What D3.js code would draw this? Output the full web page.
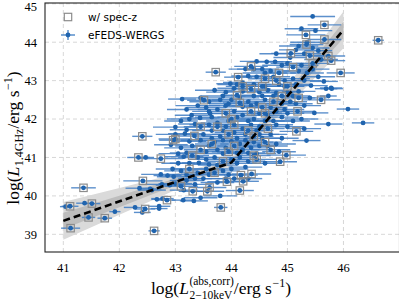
<!DOCTYPE html>
<html lang="en">
<head>
<meta charset="UTF-8">
<title>L_1.4GHz vs L_X</title>
<script src="https://cdn.jsdelivr.net/npm/d3@7"></script>
<style>
  body { margin: 0; background: #fff; }
  svg { display: block; }
</style>
</head>
<body>
<script>
    // sources with spec-z: [logLX, logLR, xerr]
    const specSources = [
        [41.12, 39.73, 0.15], [41.13, 39.16, 0.17], [41.36, 40.21, 0.22], [41.51, 39.80, 0.15],
        [41.45, 39.44, 0.12], [41.74, 39.42, 0.13], [42.46, 39.66, 0.18], [42.62, 39.09, 0.10],
        [42.42, 40.39, 0.35], [42.34, 41.00, 0.20], [42.74, 40.97, 0.40], [42.41, 41.55, 0.18],
        [42.85, 39.89, 0.15], [42.96, 41.45, 0.25], [43.00, 41.48, 0.30], [43.34, 41.56, 0.30],
        [43.31, 40.12, 0.25], [43.57, 40.12, 0.30], [44.15, 40.14, 0.25], [43.81, 39.70, 0.12],
        [43.61, 40.22, 0.30], [43.92, 40.37, 0.35], [44.21, 40.38, 0.28], [44.17, 40.54, 0.30],
        [44.36, 40.57, 0.35], [44.87, 40.89, 0.30], [44.98, 41.06, 0.35], [43.72, 43.22, 0.18],
        [44.12, 43.09, 0.25], [43.51, 42.49, 0.30], [45.60, 42.50, 0.35], [45.18, 42.20, 0.30],
        [45.95, 43.20, 0.25], [46.62, 44.05, 0.10], [45.66, 44.45, 0.30], [45.33, 44.19, 0.35],
        [45.66, 44.07, 0.30], [45.34, 43.94, 0.30], [45.06, 43.71, 0.35], [45.73, 43.64, 0.30],
        [45.40, 43.65, 0.28], [45.78, 43.52, 0.25], [44.35, 43.37, 0.30], [45.10, 43.35, 0.30],
        [44.85, 43.20, 0.30], [44.60, 43.05, 0.30], [44.55, 42.85, 0.30], [45.00, 42.85, 0.30],
        [44.35, 42.78, 0.35], [44.10, 42.62, 0.30], [44.90, 42.60, 0.35], [44.15, 42.42, 0.30],
        [44.75, 42.45, 0.35], [44.55, 42.30, 0.30], [43.90, 42.15, 0.30], [44.35, 42.20, 0.30],
        [44.00, 42.00, 0.35], [43.45, 41.80, 0.30], [44.05, 41.85, 0.30], [44.65, 41.75, 0.30],
        [45.16, 41.68, 0.30], [43.95, 41.60, 0.30], [44.40, 41.55, 0.35], [44.60, 41.40, 0.30],
        [43.45, 41.20, 0.30], [44.05, 41.30, 0.30], [44.70, 41.20, 0.35], [43.30, 41.05, 0.30],
        [43.85, 40.90, 0.30], [44.45, 40.95, 0.35], [43.25, 40.70, 0.30], [43.70, 40.60, 0.30],
        [43.10, 40.25, 0.30], [44.30, 41.70, 0.30], [43.75, 41.80, 0.35], [44.60, 42.15, 0.30],
        [43.65, 41.35, 0.30], [44.20, 42.85, 0.30], [44.80, 43.00, 0.30], [45.20, 42.55, 0.30],
        [43.95, 41.15, 0.30], [44.40, 41.05, 0.30], [45.45, 43.45, 0.30]
    ]
    // sources without spec-z: [logLX, logLR, xerr]
    const photSources = [
        [41.04, 39.72, 0.10], [41.38, 39.81, 0.15], [41.92, 39.59, 0.10], [42.28, 39.70, 0.20],
        [42.41, 39.57, 0.15], [42.47, 41.00, 0.15], [42.71, 39.73, 0.20], [42.71, 39.67, 0.15],
        [42.77, 39.93, 0.20], [42.67, 39.91, 0.10], [42.36, 40.20, 0.25], [42.55, 40.18, 0.20],
        [42.76, 40.30, 0.30], [42.90, 40.28, 0.25], [43.00, 40.32, 0.30], [42.74, 40.56, 0.35],
        [42.86, 40.53, 0.25], [42.97, 40.50, 0.30], [43.14, 39.89, 0.20], [43.33, 39.87, 0.25],
        [43.15, 40.15, 0.25], [42.92, 41.33, 0.30], [43.15, 41.02, 0.35], [43.42, 40.86, 0.30],
        [43.05, 40.85, 0.30], [43.12, 42.52, 0.25], [43.20, 42.25, 0.35], [43.29, 42.10, 0.30],
        [43.44, 42.03, 0.35], [43.62, 42.14, 0.35], [43.35, 41.87, 0.30], [43.00, 41.79, 0.40],
        [43.17, 41.62, 0.30], [43.98, 42.92, 0.25], [45.45, 44.67, 0.40], [45.50, 44.30, 0.30],
        [45.20, 43.90, 0.35], [45.45, 43.85, 0.30], [45.55, 43.78, 0.25], [45.30, 43.70, 0.30],
        [45.15, 43.80, 0.30], [45.60, 43.55, 0.30], [44.45, 43.50, 0.30], [44.63, 43.49, 0.30],
        [44.78, 43.49, 0.30], [44.90, 43.40, 0.35], [45.00, 43.45, 0.30], [45.25, 43.40, 0.30],
        [44.55, 43.30, 0.30], [44.70, 43.25, 0.35], [45.20, 43.25, 0.30], [45.45, 43.30, 0.30],
        [45.35, 43.20, 0.30], [44.30, 43.12, 0.30], [44.45, 43.10, 0.35], [44.75, 43.10, 0.30],
        [44.95, 43.00, 0.30], [45.10, 43.05, 0.30], [45.30, 43.00, 0.30], [45.65, 42.98, 0.25],
        [45.78, 42.81, 0.20], [45.42, 42.87, 0.30], [44.20, 42.95, 0.35], [44.40, 42.90, 0.30],
        [44.85, 42.90, 0.30], [43.70, 42.75, 0.35], [43.90, 42.70, 0.35], [44.05, 42.80, 0.30],
        [44.20, 42.72, 0.30], [44.50, 42.70, 0.35], [44.65, 42.75, 0.30], [44.80, 42.68, 0.30],
        [45.00, 42.70, 0.30], [45.20, 42.72, 0.30], [45.69, 42.79, 0.20], [45.79, 42.79, 0.20],
        [45.73, 42.60, 0.15], [44.40, 42.60, 0.30], [45.10, 42.60, 0.30], [43.60, 42.45, 0.35],
        [43.80, 42.50, 0.30], [44.00, 42.50, 0.35], [44.30, 42.45, 0.30], [44.45, 42.40, 0.30],
        [44.60, 42.50, 0.30], [44.90, 42.40, 0.30], [45.05, 42.45, 0.30], [45.30, 42.35, 0.30],
        [43.90, 42.35, 0.30], [44.20, 42.32, 0.35], [44.70, 42.30, 0.30], [43.60, 42.20, 0.30],
        [43.75, 42.25, 0.35], [44.05, 42.20, 0.30], [44.20, 42.10, 0.30], [44.50, 42.15, 0.30],
        [44.65, 42.10, 0.30], [44.80, 42.20, 0.30], [45.00, 42.15, 0.30], [45.48, 42.16, 0.25],
        [43.65, 42.05, 0.30], [44.40, 42.00, 0.30], [44.90, 42.05, 0.30], [43.10, 41.95, 0.30],
        [43.60, 41.85, 0.35], [43.75, 41.90, 0.30], [43.90, 41.80, 0.30], [44.20, 41.75, 0.30],
        [44.35, 41.85, 0.30], [44.50, 41.80, 0.30], [44.80, 41.85, 0.30], [45.00, 41.80, 0.30],
        [45.73, 41.87, 0.25], [46.35, 41.90, 0.20], [46.08, 42.26, 0.20], [43.20, 41.72, 0.30],
        [43.85, 41.70, 0.30], [44.45, 41.70, 0.30], [43.50, 41.60, 0.30], [43.65, 41.50, 0.30],
        [43.80, 41.55, 0.30], [44.10, 41.50, 0.30], [44.25, 41.60, 0.30], [44.55, 41.50, 0.30],
        [44.70, 41.60, 0.30], [44.90, 41.50, 0.30], [45.34, 41.44, 0.25], [45.30, 41.75, 0.30],
        [45.25, 42.00, 0.30], [43.25, 41.42, 0.30], [43.70, 41.40, 0.30], [44.00, 41.42, 0.30],
        [43.10, 41.25, 0.30], [43.30, 41.30, 0.30], [43.60, 41.30, 0.30], [43.75, 41.20, 0.30],
        [43.90, 41.25, 0.30], [44.20, 41.20, 0.30], [44.35, 41.25, 0.30], [44.50, 41.30, 0.30],
        [44.85, 41.15, 0.30], [43.20, 41.12, 0.30], [43.55, 41.15, 0.30], [44.30, 41.12, 0.30],
        [43.55, 40.95, 0.30], [43.70, 41.00, 0.30], [44.00, 40.95, 0.30], [44.15, 41.00, 0.30],
        [44.30, 40.90, 0.30], [44.60, 40.85, 0.30], [43.60, 40.82, 0.30], [43.10, 40.65, 0.30],
        [43.40, 40.60, 0.30], [43.55, 40.70, 0.30], [43.85, 40.65, 0.30], [44.00, 40.70, 0.30],
        [44.25, 40.75, 0.30], [43.20, 40.55, 0.30], [43.95, 40.55, 0.30], [43.20, 40.40, 0.30],
        [43.35, 40.30, 0.30], [43.50, 40.45, 0.30], [43.75, 40.35, 0.30], [44.05, 40.45, 0.30],
        [42.58, 40.15, 0.25], [43.80, 40.00, 0.30], [43.45, 39.95, 0.30],
        [43.40, 42.35, 0.40], [43.55, 42.30, 0.35], [43.85, 42.60, 0.40], [44.10, 42.90, 0.35],
        [44.60, 43.20, 0.40], [44.25, 43.30, 0.30], [43.95, 42.40, 0.35], [44.15, 42.55, 0.35],
        [44.35, 42.35, 0.35], [44.55, 42.60, 0.40], [44.75, 42.60, 0.35], [44.95, 42.85, 0.35],
        [45.15, 42.90, 0.30], [45.40, 42.55, 0.30], [45.55, 43.10, 0.30], [43.45, 41.45, 0.35],
        [43.65, 41.70, 0.35], [43.95, 41.95, 0.40], [44.10, 42.05, 0.35], [44.30, 41.95, 0.35],
        [44.60, 41.95, 0.35], [44.75, 41.95, 0.35], [45.10, 41.95, 0.30], [43.85, 41.45, 0.40],
        [44.15, 41.35, 0.35], [44.40, 41.40, 0.35], [44.65, 41.30, 0.35], [44.80, 41.35, 0.35],
        [43.40, 41.00, 0.35], [43.85, 41.10, 0.35], [44.10, 41.12, 0.35], [44.45, 41.10, 0.35],
        [43.25, 40.85, 0.35], [43.75, 40.80, 0.35], [44.10, 40.85, 0.35], [43.35, 40.45, 0.30],
        [43.60, 40.55, 0.30], [43.90, 40.45, 0.35], [44.30, 40.45, 0.25], [43.05, 41.10, 0.35],
        [42.95, 40.70, 0.30], [43.00, 41.60, 0.35], [43.25, 42.00, 0.40], [43.45, 42.55, 0.35],
        [44.60, 42.85, 0.35], [44.40, 43.30, 0.30], [45.05, 43.60, 0.30], [44.80, 43.70, 0.30],
        [45.35, 44.00, 0.30], [45.25, 44.35, 0.30], [44.95, 42.25, 0.35], [45.15, 42.40, 0.30],
        [44.25, 41.45, 0.35], [44.05, 41.65, 0.35], [44.50, 41.60, 0.35]
    ]
    const yErr = 0.05

    // broken power-law fit and its scatter band
    const fitX = [41, 44, 46]
    const fitY = [39.35, 40.87, 44.32]
    const bandX = [41, 41.5, 42, 42.5, 43, 43.5, 44, 44.5, 45, 45.5, 46]
    const bandOuter = [0.49, 0.42, 0.35, 0.28, 0.21, 0.15, 0.12, 0.17, 0.27, 0.37, 0.48]
    const bandInner = [0.21, 0.18, 0.15, 0.12, 0.09, 0.07, 0.05, 0.07, 0.11, 0.16, 0.21]

    const xTicks = [41, 42, 43, 44, 45, 46]
    const yTicks = [39, 40, 41, 42, 43, 44, 45]

    const W = 399, H = 302
    const mL = 45, mR = 399.5, mT = 3, mB = 252
    const serif = '"Liberation Serif", "DejaVu Serif", serif'
    const sans = '"DejaVu Sans", sans-serif'
    const ptColor = '#2064ae', barColor = '#3f7dc3'

    const x = d3.scaleLinear().domain([40.673, 47.0]).range([mL, mR])
    const y = d3.scaleLinear().domain([38.54, 45.02]).range([mB, mT])
    const fit = d3.scaleLinear().domain(fitX).range(fitY)

    const svg = d3.select('body').append('svg').attr('width', W).attr('height', H)

    // grid
    const grid = svg.append('g')
    grid.selectAll('line.gx').data(xTicks).enter().append('line')
        .attr('x1', d => x(d)).attr('x2', d => x(d)).attr('y1', mT).attr('y2', mB)
    grid.selectAll('line.gy').data(yTicks).enter().append('line')
        .attr('x1', mL).attr('x2', mR).attr('y1', d => y(d)).attr('y2', d => y(d))
    grid.selectAll('line').attr('stroke', '#d2d2d2').attr('stroke-width', 0.9).attr('stroke-dasharray', '4,3')

    // band
    const band = (widths) => d3.area()
        .x(d => x(d))
        .y0((d, i) => y(fit(d) - widths[i]))
        .y1((d, i) => y(fit(d) + widths[i]))
    svg.append('path').datum(bandX).attr('d', band(bandOuter)).attr('fill', '#dadada')
    svg.append('path').datum(bandX).attr('d', band(bandInner)).attr('fill', '#bdbdbd')

    // error bars and points
    const all = photSources.concat(specSources)
    const pts = svg.append('g')
    pts.selectAll('line.ex').data(all).enter().append('line')
        .attr('x1', d => x(d[0] - d[2])).attr('x2', d => x(d[0] + d[2]))
        .attr('y1', d => y(d[1])).attr('y2', d => y(d[1]))
        .attr('stroke', barColor).attr('stroke-width', 1.4).attr('stroke-opacity', 0.85)
    pts.selectAll('line.ey').data(all).enter().append('line')
        .attr('x1', d => x(d[0])).attr('x2', d => x(d[0]))
        .attr('y1', d => y(d[1] - yErr)).attr('y2', d => y(d[1] + yErr))
        .attr('stroke', barColor).attr('stroke-width', 1.3)
    pts.selectAll('circle').data(all).enter().append('circle')
        .attr('cx', d => x(d[0])).attr('cy', d => y(d[1])).attr('r', 2.4)
        .attr('fill', ptColor)

    const sq = 7.4
    svg.append('g').selectAll('rect').data(specSources).enter().append('rect')
        .attr('x', d => x(d[0]) - sq / 2).attr('y', d => y(d[1]) - sq / 2)
        .attr('width', sq).attr('height', sq)
        .attr('fill', 'none').attr('stroke', '#8c8c8c').attr('stroke-width', 1.2)

    // fit line
    svg.append('path').datum(fitX)
        .attr('d', d3.line().x(d => x(d)).y(d => y(fit(d))))
        .attr('fill', 'none').attr('stroke', '#000').attr('stroke-width', 2.6)
        .attr('stroke-dasharray', '7,4')

    // frame
    svg.append('rect').attr('x', mL).attr('y', mT)
        .attr('width', mR - mL).attr('height', mB - mT)
        .attr('fill', 'none').attr('stroke', '#222').attr('stroke-width', 1.1)

    // tick labels
    svg.append('g').selectAll('text').data(xTicks).enter().append('text')
        .attr('x', d => x(d)).attr('y', 272).attr('text-anchor', 'middle')
        .style('font-family', serif).style('font-size', '12.5px').text(d => d)
    svg.append('g').selectAll('text').data(yTicks).enter().append('text')
        .attr('x', 37).attr('y', d => Math.max(y(d), 6.5)).attr('dy', '0.35em').attr('text-anchor', 'end')
        .style('font-family', serif).style('font-size', '12.5px').text(d => d)

    // math-like labels built from pieces
    function mathLabel(g, parts) {
        let cx = 0
        const put = (q) => {
            const t = g.append('text').attr('x', cx).attr('y', q.dy || 0)
                .style('font-family', serif).style('font-size', (q.size || 17.5) + 'px')
                .style('font-style', q.it ? 'italic' : 'normal').text(q.t)
            return t.node().getComputedTextLength() + (q.pad || 0)
        }
        parts.forEach(p => {
            if (p.stack) cx += d3.max(p.stack.map(put))
            else cx += put(p)
        })
        return cx
    }

    const xl = svg.append('g')
    const xw = mathLabel(xl, [
        {t: 'log('}, {t: 'L', it: true, pad: 0.5},
        {stack: [{t: '(abs,corr)', size: 11.5, dy: -9.5}, {t: '2−10keV', size: 11.5, dy: 4.5}]},
        {t: '/erg s', pad: 0.5}, {t: '−1', size: 12, dy: -7}, {t: ')'}
    ])
    xl.attr('transform', `translate(${221 - xw / 2},294)`)

    const yl = svg.append('g')
    const yw = mathLabel(yl, [
        {t: 'log('}, {t: 'L', it: true, pad: 0.5}, {t: '1.4GHz', size: 12, dy: 4},
        {t: '/erg s', pad: 0.5}, {t: '−1', size: 12, dy: -7}, {t: ')'}
    ])
    yl.attr('transform', `translate(19,${138 + yw / 2}) rotate(-90)`)

    // legend
    const lg = svg.append('g').style('font-family', sans).style('font-size', '10.5px')
    lg.append('rect').attr('x', 68 - sq / 2).attr('y', 17 - sq / 2).attr('width', sq).attr('height', sq)
        .attr('fill', 'none').attr('stroke', '#8c8c8c').attr('stroke-width', 1.2)
    lg.append('text').attr('x', 88).attr('y', 17).attr('dy', '0.35em').text('w/ spec-z')
    lg.append('line').attr('x1', 61).attr('x2', 75).attr('y1', 35).attr('y2', 35)
        .attr('stroke', barColor).attr('stroke-width', 1.3)
    lg.append('line').attr('x1', 68).attr('x2', 68).attr('y1', 30).attr('y2', 40)
        .attr('stroke', barColor).attr('stroke-width', 1.3)
    lg.append('circle').attr('cx', 68).attr('cy', 35).attr('r', 2.4).attr('fill', ptColor)
    lg.append('text').attr('x', 88).attr('y', 35).attr('dy', '0.35em').text('eFEDS-WERGS')
</script>
</body>
</html>
